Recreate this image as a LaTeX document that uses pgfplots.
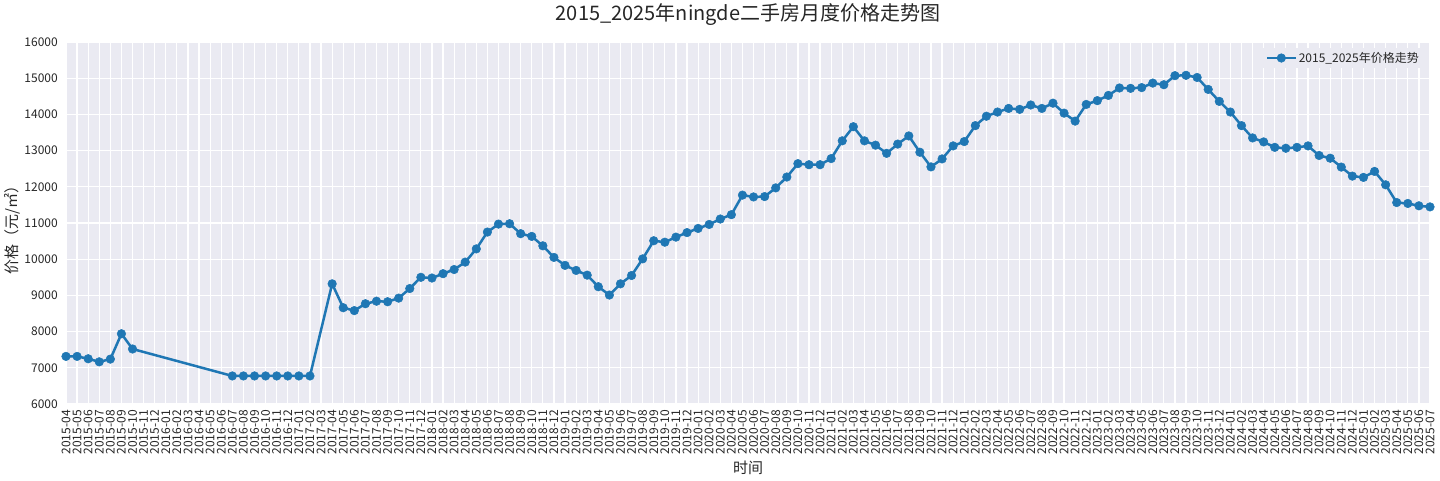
\documentclass[border=0pt]{standalone}
\usepackage{fontspec}
\setmainfont{Noto Sans CJK SC}
\usepackage{pgfplots}
\pgfplotsset{compat=1.18}
\definecolor{bgc}{HTML}{EAEAF2}
\definecolor{c0}{HTML}{1F77B4}
\definecolor{tk}{HTML}{262626}

\begin{document}
\begin{tikzpicture}
\begin{axis}[
  width=1364pt, height=362pt, scale only axis,
  xmin=0, xmax=123, ymin=6000, ymax=16000,
  axis background/.style={fill=bgc},
  axis line style={draw=none},
  major tick length=0pt,
  grid=major,
  major grid style={white, line width=1.2pt},
  xtick={0,...,123},
  xticklabels={2015-04,2015-05,2015-06,2015-07,2015-08,2015-09,2015-10,2015-11,2015-12,
    2016-01,2016-02,2016-03,2016-04,2016-05,2016-06,2016-07,2016-08,2016-09,2016-10,2016-11,2016-12,
    2017-01,2017-02,2017-03,2017-04,2017-05,2017-06,2017-07,2017-08,2017-09,2017-10,2017-11,2017-12,
    2018-01,2018-02,2018-03,2018-04,2018-05,2018-06,2018-07,2018-08,2018-09,2018-10,2018-11,2018-12,
    2019-01,2019-02,2019-03,2019-04,2019-05,2019-06,2019-07,2019-08,2019-09,2019-10,2019-11,2019-12,
    2020-01,2020-02,2020-03,2020-04,2020-05,2020-06,2020-07,2020-08,2020-09,2020-10,2020-11,2020-12,
    2021-01,2021-02,2021-03,2021-04,2021-05,2021-06,2021-07,2021-08,2021-09,2021-10,2021-11,2021-12,
    2022-01,2022-02,2022-03,2022-04,2022-05,2022-06,2022-07,2022-08,2022-09,2022-10,2022-11,2022-12,
    2023-01,2023-02,2023-03,2023-04,2023-05,2023-06,2023-07,2023-08,2023-09,2023-10,2023-11,2023-12,
    2024-01,2024-02,2024-03,2024-04,2024-05,2024-06,2024-07,2024-08,2024-09,2024-10,2024-11,2024-12,
    2025-01,2025-02,2025-03,2025-04,2025-05,2025-06,2025-07},
  xticklabel style={rotate=90, anchor=east, inner sep=0pt, font=\fontsize{12}{12}\selectfont, text=tk},
  xticklabel shift=6pt,
  ytick={6000,7000,...,16000},
  scaled y ticks=false,
  yticklabel style={anchor=east, inner sep=0pt, font=\fontsize{12}{12}\selectfont, text=tk},
  yticklabel shift=8pt,
  /pgf/number format/assume math mode=true,
  /pgf/number format/set thousands separator={},
  title={2015\_2025年ningde二手房月度价格走势图},
  title style={at={(axis description cs:0.5,1)}, anchor=base, yshift=15pt, inner sep=0pt,
    font=\fontsize{20}{24}\selectfont, text=tk},
  xlabel={时间},
  xlabel style={at={(axis description cs:0.5,0)}, anchor=center, yshift=-64pt,
    font=\fontsize{15}{18}\selectfont, text=tk},
  ylabel={价格（元/㎡）},
  ylabel style={at={(axis description cs:-0.0396,0.49)}, anchor=center,
    font=\fontsize{15}{18}\selectfont, text=tk},
  legend style={at={(1,1)}, anchor=north east, xshift=-6pt, yshift=-6pt,
    draw=none, fill=bgc, font=\fontsize{12}{14}\selectfont, text=tk},
  legend image code/.code={\draw[mark repeat=2,mark phase=2,#1]
    plot coordinates {(0cm,0cm) (0.5cm,0cm) (1cm,0cm)};},
]
\addplot[c0, line width=2.5pt, mark=*, mark size=4.3pt,
  mark options={fill=c0, draw=c0, line width=0.5pt}] coordinates {
  (0,7315) (1,7315) (2,7250) (3,7165) (4,7240) (5,7940) (6,7520)
  (15,6775) (16,6775) (17,6775) (18,6775) (19,6775) (20,6775) (21,6775) (22,6775)
  (24,9320) (25,8660) (26,8580) (27,8770) (28,8840) (29,8825) (30,8925) (31,9190) (32,9500)
  (33,9480) (34,9600) (35,9715) (36,9920) (37,10285) (38,10750) (39,10970) (40,10980)
  (41,10705) (42,10630) (43,10370) (44,10050)
  (45,9830) (46,9690) (47,9560) (48,9240) (49,9010) (50,9320) (51,9550) (52,10010)
  (53,10510) (54,10470) (55,10610) (56,10735)
  (57,10850) (58,10960) (59,11110) (60,11230) (61,11770) (62,11720) (63,11730) (64,11970)
  (65,12270) (66,12640) (67,12610) (68,12610)
  (69,12780) (70,13270) (71,13660) (72,13270) (73,13150) (74,12925) (75,13180) (76,13405)
  (77,12955) (78,12550) (79,12770) (80,13130)
  (81,13250) (82,13690) (83,13950) (84,14065) (85,14165) (86,14140) (87,14260) (88,14165)
  (89,14310) (90,14035) (91,13815) (92,14275)
  (93,14380) (94,14525) (95,14730) (96,14720) (97,14740) (98,14865) (99,14820) (100,15070)
  (101,15080) (102,15020) (103,14690) (104,14360)
  (105,14065) (106,13690) (107,13350) (108,13240) (109,13090) (110,13065) (111,13090) (112,13130)
  (113,12865) (114,12790) (115,12545) (116,12295)
  (117,12260) (118,12425) (119,12055) (120,11565) (121,11540) (122,11475) (123,11445)
};
\addlegendentry{2015\_2025年价格走势}
\end{axis}
\pgfresetboundingbox
\useasboundingbox ([shift={(-66pt,-76pt)}]current axis.south west) rectangle ([shift={(10pt,42pt)}]current axis.north east);
\end{tikzpicture}
\end{document}
